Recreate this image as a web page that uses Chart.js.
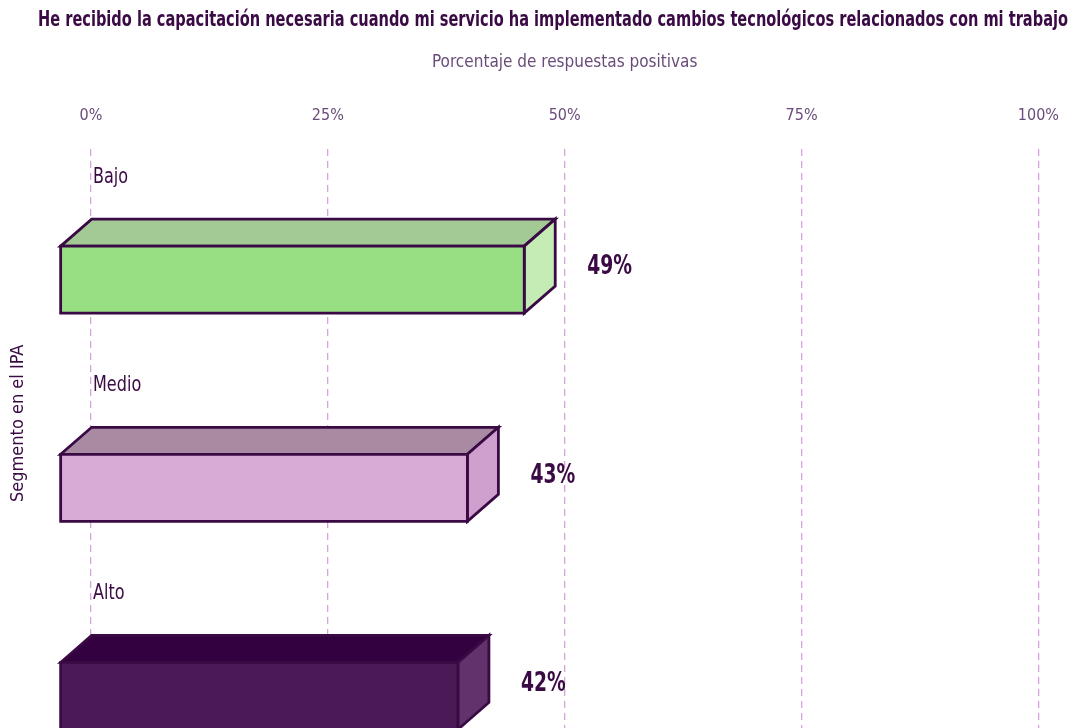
<!DOCTYPE html>
<html>
<head>
<meta charset="utf-8">
<script src="https://cdn.jsdelivr.net/npm/chart.js@4/dist/chart.umd.min.js"></script>
<style>
  html, body { margin: 0; padding: 0; background: #fff; overflow: hidden; }
  #wrap { width: 1082px; height: 728px; overflow: hidden; }
</style>
</head>
<body>
<div id="wrap"><canvas id="myChart" width="1082" height="774"></canvas></div>
<script>
    const labels = ['Bajo', 'Medio', 'Alto'];
    const values = [49, 43, 42];
    const tickValues = [0, 25, 50, 75, 100];
    const titulo = 'He recibido la capacitación necesaria cuando mi servicio ha implementado cambios tecnológicos relacionados con mi trabajo';

    // colores de cada barra: frente, cara superior, cara lateral
    const frontColors = ['#98df84', '#d8aad6', '#4b1955'];
    const topColors = ['#a3c994', '#a98aa3', '#330040'];
    const sideColors = ['#c4ecb4', '#cf9fcd', '#62326c'];

    const FONT = "'DejaVu Sans Condensed', sans-serif";
    const dark = '#3a0a45';
    const soft = '#6a4c7a';

    // texto estrechado en horizontal (la fuente original es muy condensada)
    function narrowText(ctx, text, x, y, sx) {
        ctx.save();
        ctx.translate(x, y);
        ctx.scale(sx, 1);
        ctx.fillText(text, 0, 0);
        ctx.restore();
    }

    // dibuja las barras en 3D y las etiquetas
    const box3d = {
        id: 'box3d',
        afterDatasetsDraw(chart) {
            const ctx = chart.ctx;
            const meta = chart.getDatasetMeta(0);
            const dx = -31, dy = 27;
            ctx.save();
            ctx.lineWidth = 2.8;
            ctx.strokeStyle = dark;
            ctx.lineJoin = 'miter';
            meta.data.forEach(function(bar, i) {
                const p = bar.getProps(['x', 'y', 'base', 'height'], true);
                const top = p.y - p.height / 2;
                const bottom = p.y + p.height / 2;
                const l = p.base, r = p.x;

                // cara superior
                ctx.beginPath();
                ctx.moveTo(l + dx, top + dy);
                ctx.lineTo(l, top);
                ctx.lineTo(r, top);
                ctx.lineTo(r + dx, top + dy);
                ctx.closePath();
                ctx.fillStyle = topColors[i];
                ctx.fill();
                ctx.stroke();

                // cara lateral
                ctx.beginPath();
                ctx.moveTo(r + dx, top + dy);
                ctx.lineTo(r, top);
                ctx.lineTo(r, bottom);
                ctx.lineTo(r + dx, bottom + dy);
                ctx.closePath();
                ctx.fillStyle = sideColors[i];
                ctx.fill();
                ctx.stroke();

                // frente
                ctx.beginPath();
                ctx.rect(l + dx, top + dy, r - l, p.height);
                ctx.fillStyle = frontColors[i];
                ctx.fill();
                ctx.stroke();

                // etiquetas
                ctx.fillStyle = dark;
                ctx.textBaseline = 'middle';
                ctx.textAlign = 'left';
                ctx.font = '21px ' + FONT;
                narrowText(ctx, labels[i], chart.chartArea.left + 2, p.y - 75, 0.85);
                ctx.font = 'bold 26px ' + FONT;
                narrowText(ctx, values[i] + '%', r + 32, p.y + 15, 0.8);
            });

            // titulo eje y
            ctx.save();
            ctx.translate(18, (chart.chartArea.top + 698) / 2);
            ctx.rotate(-Math.PI / 2);
            ctx.textAlign = 'center';
            ctx.font = '18px ' + FONT;
            ctx.fillText('Segmento en el IPA', 0, 0);
            ctx.restore();

            // titulo principal
            ctx.textAlign = 'center';
            ctx.textBaseline = 'middle';
            ctx.font = 'bold 21px ' + FONT;
            ctx.fillText(titulo, 553, 21, 1030);
            ctx.restore();
        }
    };

    const data = {
        labels: labels,
        datasets: [{
            data: values,
            backgroundColor: 'rgba(0,0,0,0)',
            borderWidth: 0,
            barThickness: 67
        }]
    };

    const config = {
        type: 'bar',
        data: data,
        options: {
            indexAxis: 'y',
            responsive: false,
            animation: false,
            layout: { padding: { left: 91, right: 41, bottom: 1, top: 50 } },
            plugins: {
                legend: { display: false },
                tooltip: { enabled: false },
                title: { display: false }
            },
            scales: {
                x: {
                    position: 'top',
                    min: 0,
                    max: 100,
                    afterBuildTicks(scale) {
                        scale.ticks = tickValues.map(v => ({ value: v }));
                    },
                    ticks: {
                        color: soft,
                        font: { family: FONT, size: 16 },
                        padding: 23,
                        callback: v => v + '%'
                    },
                    grid: {
                        color: '#d2a6d8',
                        lineWidth: 1.3,
                        drawTicks: false
                    },
                    border: { display: false, dash: [7, 5] },
                    title: {
                        display: true,
                        text: 'Porcentaje de respuestas positivas',
                        color: soft,
                        font: { family: FONT, size: 17 },
                        padding: { top: 2, bottom: 11 }
                    }
                },
                y: {
                    display: false
                }
            }
        },
        plugins: [box3d]
    };

    const myChart = new Chart(
        document.getElementById('myChart'),
        config
    );
</script>
</body>
</html>
